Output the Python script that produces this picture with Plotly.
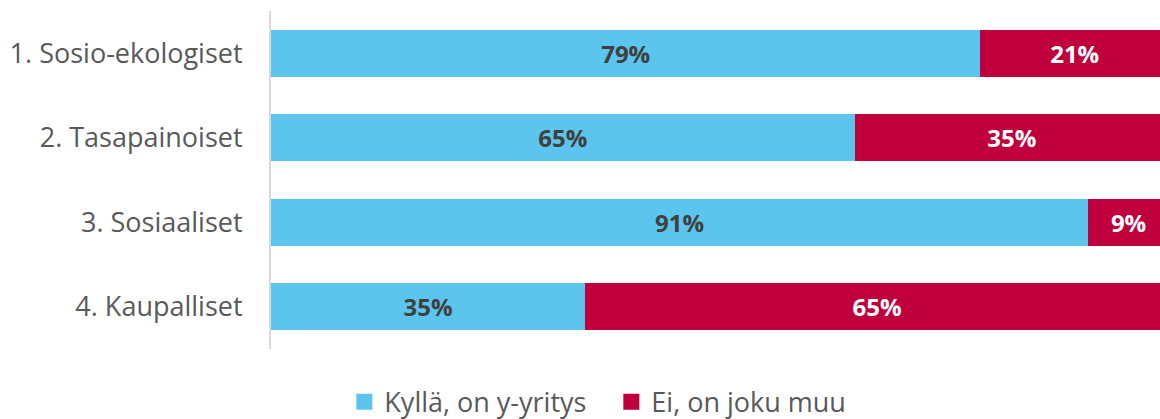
import plotly.graph_objects as go

categories = ["1. Sosio-ekologiset", "2. Tasapainoiset", "3. Sosiaaliset", "4. Kaupalliset"]
yes_values = [79, 65, 91, 35]
no_values = [21, 35, 9, 65]
series_names = ["Kyllä, on y-yritys", "Ei, on joku muu"]

BLUE = "#5BC5ED"
RED = "#C0003C"
FONT = "Open Sans"

fig = go.Figure()
fig.add_trace(go.Bar(
    y=categories, x=yes_values, orientation="h", name=series_names[0],
    marker=dict(color=BLUE, line=dict(width=0)),
    texttemplate="%{x:.0f}%", textposition="inside", insidetextanchor="middle",
    textfont=dict(family=FONT, size=24, color="#404040", weight="bold"),
    constraintext="none", hoverinfo="skip", showlegend=False,
))
fig.add_trace(go.Bar(
    y=categories, x=no_values, orientation="h", name=series_names[1],
    marker=dict(color=RED, line=dict(width=0)),
    texttemplate="%{x:.0f}%", textposition="inside", insidetextanchor="middle",
    textfont=dict(family=FONT, size=24, color="#FFFFFF", weight="bold"),
    constraintext="none", hoverinfo="skip", showlegend=False,
))
# legend entries with larger square swatches
for name, col in zip(series_names, [BLUE, RED]):
    fig.add_trace(go.Scatter(
        x=[None], y=[None], mode="markers", name=name,
        marker=dict(symbol="square", size=17, color=col),
        showlegend=True, hoverinfo="skip",
    ))

fig.update_layout(
    width=1160, height=419,
    barmode="stack", bargap=0.445,
    margin=dict(l=271, r=0, t=11, b=70),
    paper_bgcolor="white", plot_bgcolor="white",
    font=dict(family=FONT, size=27, color="#595959"),
    showlegend=True,
    legend=dict(
        orientation="h", xref="container", yref="container",
        x=0.527, y=0.04, xanchor="center", yanchor="middle",
        font=dict(family=FONT, size=27, color="#595959"),
        itemwidth=30, traceorder="normal", itemsizing="trace",
        entrywidth=222, entrywidthmode="pixels",
    ),
    xaxis=dict(range=[0, 99.0], visible=False, showgrid=False, zeroline=False),
    yaxis=dict(
        categoryorder="array", categoryarray=categories[::-1],
        showline=True, linecolor="#D9D9D9", linewidth=2,
        showgrid=False, zeroline=False, ticks="",
        ticklabelstandoff=21,
        tickfont=dict(family=FONT, size=27, color="#595959"),
    ),
)

fig.write_html(
    "out.html",
    config={"displayModeBar": False},
    post_script="document.body.style.margin='0';document.body.style.overflow='hidden';",
)
